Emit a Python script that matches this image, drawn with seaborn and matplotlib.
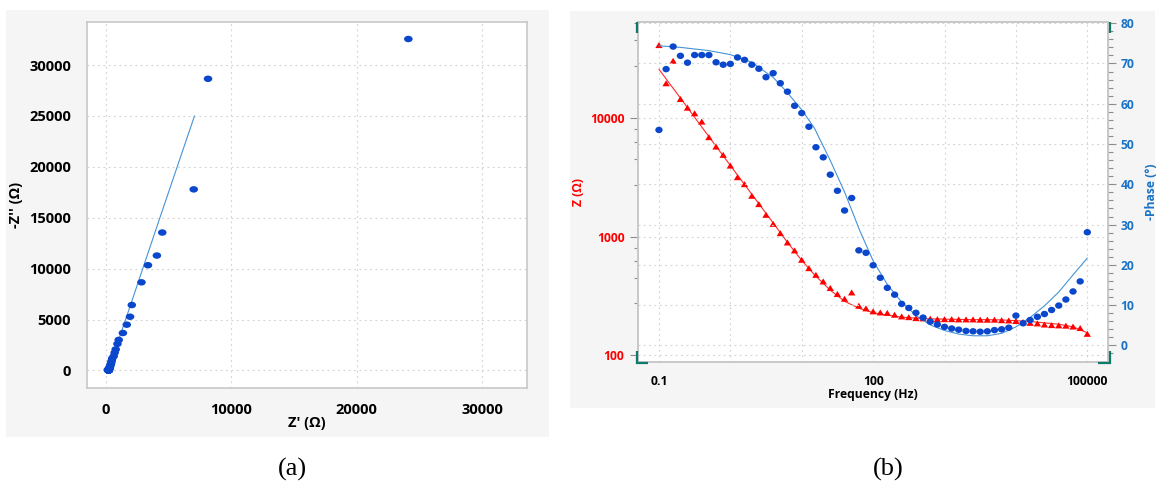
import matplotlib
matplotlib.use("Agg")
import matplotlib.pyplot as plt
from matplotlib.patches import Rectangle
from matplotlib.lines import Line2D
from matplotlib.path import Path
from matplotlib.ticker import FixedLocator, FixedFormatter, NullFormatter
import numpy as np
import pandas as pd
import seaborn as sns

# ---------------------------------------------------------------- data
# Impedance spectrum, 10 points per decade, 0.1 Hz .. 100 kHz
freq_hz = [0.1, 0.126, 0.158, 0.2, 0.251, 0.316, 0.398, 0.501, 0.631, 0.794,
           1, 1.26, 1.58, 2, 2.51, 3.16, 3.98, 5.01, 6.31, 7.94,
           10, 12.6, 15.8, 20, 25.1, 31.6, 39.8, 50.1, 63.1, 79.4,
           100, 126, 158, 200, 251, 316, 398, 501, 631, 794,
           1000, 1260, 1580, 2000, 2510, 3160, 3980, 5010, 6310, 7940,
           10000, 12600, 15800, 20000, 25100, 31600, 39800, 50100, 63100, 79400,
           100000]

z_modulus = [41100, 19600, 30300, 14450, 12200, 10950, 9320, 6890, 5740, 4890,
             3970, 3170, 2770, 2210, 1880, 1528, 1283, 1071, 894, 766,
             639, 543, 477, 420, 370, 329, 300, 339, 262, 249,
             235, 230, 228, 220, 213, 210, 206, 205, 204, 202,
             202, 202, 201, 201, 201, 200, 200, 200, 198, 197,
             195, 191, 188, 186, 182, 180, 179, 178, 175, 170,
             152]

neg_phase = [53.5, 68.6, 74.2, 71.9, 70.2, 72.1, 72.1, 72.1, 70.3, 69.7,
             69.9, 71.5, 70.9, 69.7, 68.7, 66.6, 67.6, 65.1, 63.0, 59.5,
             57.7, 54.3, 49.2, 46.7, 42.4, 38.4, 33.5, 36.6, 23.6, 23.0,
             19.9, 16.8, 14.3, 12.6, 10.3, 9.3, 8.1, 6.9, 5.9, 5.2,
             4.6, 4.2, 3.9, 3.6, 3.5, 3.4, 3.5, 3.8, 4.0, 4.4,
             7.4, 5.5, 6.3, 7.1, 7.8, 8.8, 9.9, 11.4, 13.4, 15.9,
             28.1]

# Nyquist representation of the same spectrum (ohm)
z_real = [24110, 6990, 8130, 4480, 4050, 3340, 2820, 2050, 1910, 1650,
          1340, 1006, 906, 767, 683, 607, 489, 451, 406, 389,
          341, 317, 312, 288, 273, 258, 250, 272, 240, 229,
          221, 220, 221, 215, 210, 207, 204, 204, 203, 201,
          201, 201, 201, 201, 201, 200, 200, 200, 198, 196,
          193, 190, 187, 185, 180, 178, 176, 174, 170, 163,
          134]
z_imag_neg = [32560, 17790, 28650, 13550, 11290, 10340, 8660, 6430, 5280, 4500,
              3680, 3006, 2617, 2073, 1752, 1402, 1186, 971, 797, 660,
              540, 441, 361, 306, 249, 204, 166, 202, 105, 97,
              80, 66, 56, 48, 38, 34, 29, 25, 21, 18,
              16, 15, 14, 13, 12, 12, 12, 13, 14, 15,
              25, 18, 21, 23, 25, 28, 31, 35, 41, 47,
              72]

# Equivalent-circuit fit
fit_freq_hz = [0.1, 0.2, 0.5, 1, 2, 4, 6, 10, 15, 25, 40, 65, 100, 160, 250,
               400, 630, 1000, 1600, 2500, 4000, 6300, 10000, 16000, 25000,
               40000, 63000, 100000]
fit_modulus = [25700, 14700, 6970, 3980, 2275, 1300, 933, 631, 479, 355, 285,
               248, 229, 218, 210, 206, 203, 202, 201, 200, 200, 199, 196, 193,
               188, 183, 174, 155]
fit_phase = [74.4, 74.0, 73.2, 72.2, 70.3, 66.5, 63.2, 58.5, 54.0, 46.0, 38.0,
             28.5, 21.0, 15.0, 10.8, 7.4, 5.1, 3.7, 2.8, 2.4, 2.4, 3.0, 4.6,
             7.0, 9.8, 13.3, 17.5, 21.7]
fit_real = [7050, 4051, 2014, 1217, 767, 518, 421, 330, 282, 247, 225, 218,
            214, 211, 206, 204, 202, 195, 144]
fit_imag_neg = [25000, 14131, 6672, 3789, 2142, 1192, 833, 538, 388, 255, 175,
                118, 82, 56, 39, 27, 13, 16, 57]

nyq_xticks = [0, 10000, 20000, 30000]
nyq_xlabels = ["0", "10000", "20000", "30000"]
nyq_yticks = [0, 5000, 10000, 15000, 20000, 25000, 30000]
nyq_ylabels = ["0", "5000", "10000", "15000", "20000", "25000", "30000"]
bode_xticks = [0.1, 1, 10, 100, 1000, 10000, 100000]
bode_xlabels = ["0.1", "", "", "100", "", "", "100000"]
bode_zticks = [100, 1000, 10000]
bode_zlabels = ["100", "1000", "10000"]
bode_pticks = [0, 10, 20, 30, 40, 50, 60, 70, 80]
bode_plabels = ["0", "10", "20", "30", "40", "50", "60", "70", "80"]

# ---------------------------------------------------------------- style
sns.set_style("white")
plt.rcParams["font.family"] = ["Open Sans", "DejaVu Sans"]
plt.rcParams["font.weight"] = "bold"
plt.rcParams["axes.labelweight"] = "bold"

DOT_BLUE = "#0a47cc"
FIT_BLUE = "#4593d8"
RED = "#ff0000"
FIT_RED = "#ff2a2a"
AX_BLUE = "#1a73c6"
TEAL = "#0e7a6b"
GRID = "#d2d2d2"
GRID_STYLE = (0, (1.6, 3.2))
SPINE = "#c8c8c8"
TICK = "#8c8c8c"

W, H = 1159, 484


def fx(px):
    return px / W


def fy(py):
    return 1 - py / H


def marker_path(verts):
    verts = np.asarray(verts, dtype=float)
    codes = [Path.MOVETO] + [Path.LINETO] * (len(verts) - 2) + [Path.CLOSEPOLY]
    return Path(verts, codes)


circle = Path.unit_circle()
flat_dot = Path(circle.vertices * np.array([1.0, 0.76]), circle.codes)
round_dot = Path(circle.vertices * np.array([1.0, 0.88]), circle.codes)
triangle = marker_path([(0, 0.82), (-1, -0.82), (1, -0.82), (0, 0.82)])

fig = plt.figure(figsize=(11.59, 4.84), dpi=100)
fig.patch.set_facecolor("white")

for x0, y0, x1, y1 in [(6, 10, 549, 437), (570, 11, 1155, 408)]:
    fig.patches.append(Rectangle((fx(x0), fy(y1)), fx(x1) - fx(x0), fy(y0) - fy(y1),
                                 transform=fig.transFigure, facecolor="#f5f5f5",
                                 edgecolor="none", zorder=-10))

# ---------------------------------------------------------------- (a) Nyquist
ax_a = fig.add_axes([fx(87.3), fy(388.3), (527.3 - 87.3) / W, (388.3 - 22.3) / H])
ax_a.set_facecolor("white")

nyq = pd.DataFrame({"re": z_real, "im": z_imag_neg})
nyq_fit = pd.DataFrame({"re": fit_real, "im": fit_imag_neg})
sns.lineplot(data=nyq_fit, x="re", y="im", sort=False, estimator=None,
             color=FIT_BLUE, linewidth=0.8, ax=ax_a, zorder=2)
sns.scatterplot(data=nyq, x="re", y="im", marker=flat_dot, s=38, color=DOT_BLUE,
                edgecolor="none", linewidth=0, ax=ax_a, zorder=3)

ax_a.set_xlim(-1500, 33600)
ax_a.set_ylim(-1750, 34200)
ax_a.xaxis.set_major_locator(FixedLocator(nyq_xticks))
ax_a.xaxis.set_major_formatter(FixedFormatter(nyq_xlabels))
ax_a.xaxis.set_minor_locator(FixedLocator(np.arange(2000, 33000, 2000)))
ax_a.yaxis.set_major_locator(FixedLocator(nyq_yticks))
ax_a.yaxis.set_major_formatter(FixedFormatter(nyq_ylabels))
ax_a.yaxis.set_minor_locator(FixedLocator(np.arange(-1000, 34001, 1000)))
ax_a.tick_params(which="both", direction="out", color=TICK, width=0.8,
                 labelsize=10.5, labelcolor="black")
ax_a.tick_params(axis="x", which="major", length=4.8, pad=5.8)
ax_a.tick_params(axis="x", which="minor", length=2.4)
ax_a.tick_params(axis="y", which="major", length=7.2, pad=4.5)
ax_a.tick_params(axis="y", which="minor", length=4.1)
ax_a.grid(True, which="major", color=GRID, linestyle=GRID_STYLE, linewidth=0.8)
for sp in ax_a.spines.values():
    sp.set_color(SPINE)
    sp.set_linewidth(1.2)
    sp.set_visible(True)

ax_a.set_xlabel("Z' (Ω)", fontsize=10.5, color="black")
ax_a.set_ylabel("-Z'' (Ω)", fontsize=10.5, color="black")
ax_a.xaxis.label.set_va("center")
ax_a.yaxis.label.set_va("center")
ax_a.xaxis.set_label_coords(0.5, -0.094)
ax_a.yaxis.set_label_coords(-0.162, 0.5)

# ---------------------------------------------------------------- (b) Bode
ax_b = fig.add_axes([fx(637.7), fy(361.7), (1108.3 - 637.7) / W, (361.7 - 22) / H])
ax_b.set_facecolor("white")
ax_b.set_xscale("log")
ax_b.set_yscale("log")
ax_p = ax_b.twinx()

bode = pd.DataFrame({"f": freq_hz, "z": z_modulus, "phase": neg_phase})
bode_fit = pd.DataFrame({"f": fit_freq_hz, "z": fit_modulus, "phase": fit_phase})

sns.lineplot(data=bode_fit, x="f", y="z", estimator=None, color=FIT_RED,
             linewidth=0.8, ax=ax_b, zorder=2)
sns.scatterplot(data=bode, x="f", y="z", marker=triangle, s=28, color=RED,
                edgecolor="none", linewidth=0, ax=ax_b, zorder=3)
sns.lineplot(data=bode_fit, x="f", y="phase", estimator=None, color=FIT_BLUE,
             linewidth=0.8, ax=ax_p, zorder=2)
sns.scatterplot(data=bode, x="f", y="phase", marker=round_dot, s=28,
                color=DOT_BLUE, edgecolor="none", linewidth=0, ax=ax_p, zorder=3)

ax_b.set_xlim(0.0504, 196800)
ax_b.set_ylim(88.5, 64300)
ax_p.set_ylim(-4.04, 80.3)

minor_steps = np.array([2.75, 4.5, 6.25, 8.0])
ax_b.xaxis.set_major_locator(FixedLocator(bode_xticks))
ax_b.xaxis.set_major_formatter(FixedFormatter(bode_xlabels))
ax_b.xaxis.set_minor_locator(FixedLocator(np.concatenate(
    [d * minor_steps for d in [0.01, 0.1, 1, 10, 100, 1000, 10000, 100000]])))
ax_b.xaxis.set_minor_formatter(NullFormatter())
ax_b.yaxis.set_major_locator(FixedLocator(bode_zticks))
ax_b.yaxis.set_major_formatter(FixedFormatter(bode_zlabels))
ax_b.yaxis.set_minor_locator(FixedLocator(np.concatenate(
    [d * minor_steps for d in [10, 100, 1000, 10000]])))
ax_b.yaxis.set_minor_formatter(NullFormatter())
ax_p.yaxis.set_major_locator(FixedLocator(bode_pticks))
ax_p.yaxis.set_major_formatter(FixedFormatter(bode_plabels))
ax_p.yaxis.set_minor_locator(FixedLocator(np.arange(-2, 81, 2)))

ax_b.tick_params(which="both", direction="out", color=TICK, width=0.8, labelsize=8.7)
ax_b.tick_params(axis="x", which="major", length=4.8, pad=5.0, labelcolor="black")
ax_b.tick_params(axis="x", which="minor", length=2.9)
ax_b.tick_params(axis="y", which="major", length=5.5, pad=4.1, labelcolor=RED)
ax_b.tick_params(axis="y", which="minor", length=3.1)
ax_p.tick_params(which="both", direction="out", color=TICK, width=0.8, labelsize=8.7,
                 labelcolor=AX_BLUE)
ax_p.tick_params(axis="y", which="major", length=5.5, pad=3.4)
ax_p.tick_params(axis="y", which="minor", length=3.6)

ax_b.grid(True, which="major", axis="x", color=GRID, linestyle=GRID_STYLE, linewidth=0.8)
ax_b.grid(True, which="major", axis="y", color=GRID, linestyle=GRID_STYLE, linewidth=0.8)
ax_p.grid(True, which="major", axis="y", color=GRID, linestyle=GRID_STYLE, linewidth=0.8)
ax_p.set_axisbelow(True)
for a in (ax_b, ax_p):
    for sp in a.spines.values():
        sp.set_color(SPINE)
        sp.set_linewidth(1.2)
        sp.set_visible(True)

ax_b.set_xlabel("Frequency (Hz)", fontsize=8.7, color="black")
ax_b.set_ylabel("Z (Ω)", fontsize=8.7, color=RED)
ax_p.set_ylabel("-Phase (°)", fontsize=8.7, color=AX_BLUE, rotation=90)
for lab in (ax_b.xaxis.label, ax_b.yaxis.label, ax_p.yaxis.label):
    lab.set_va("center")
ax_b.xaxis.set_label_coords(0.5, -0.0965)
ax_b.yaxis.set_label_coords(-0.1262, 0.5)
ax_p.yaxis.set_label_coords(1.0922, 0.5)

# corner brackets of the plot frame
brackets = [
    [(636.7, 22.0), (636.7, 33.0)],
    [(636.7, 350.7), (636.7, 362.6), (648.3, 362.6)],
    [(1110.0, 22.0), (1110.0, 33.0)],
    [(1110.0, 350.7), (1110.0, 362.6), (1097.7, 362.6)],
]
for seg in brackets:
    xs = [fx(p[0]) for p in seg]
    ys = [fy(p[1]) for p in seg]
    fig.add_artist(Line2D(xs, ys, transform=fig.transFigure, color=TEAL,
                          linewidth=1.6, solid_capstyle="butt",
                          solid_joinstyle="miter", zorder=5))

# panel captions
for label, cx in [("(a)", 292), ("(b)", 888)]:
    fig.text(fx(cx), fy(469), label, family=["Liberation Serif", "DejaVu Serif"],
             fontsize=19, fontweight="normal", ha="center", va="center", color="black")

fig.savefig("out.png", dpi=100, facecolor="white")
